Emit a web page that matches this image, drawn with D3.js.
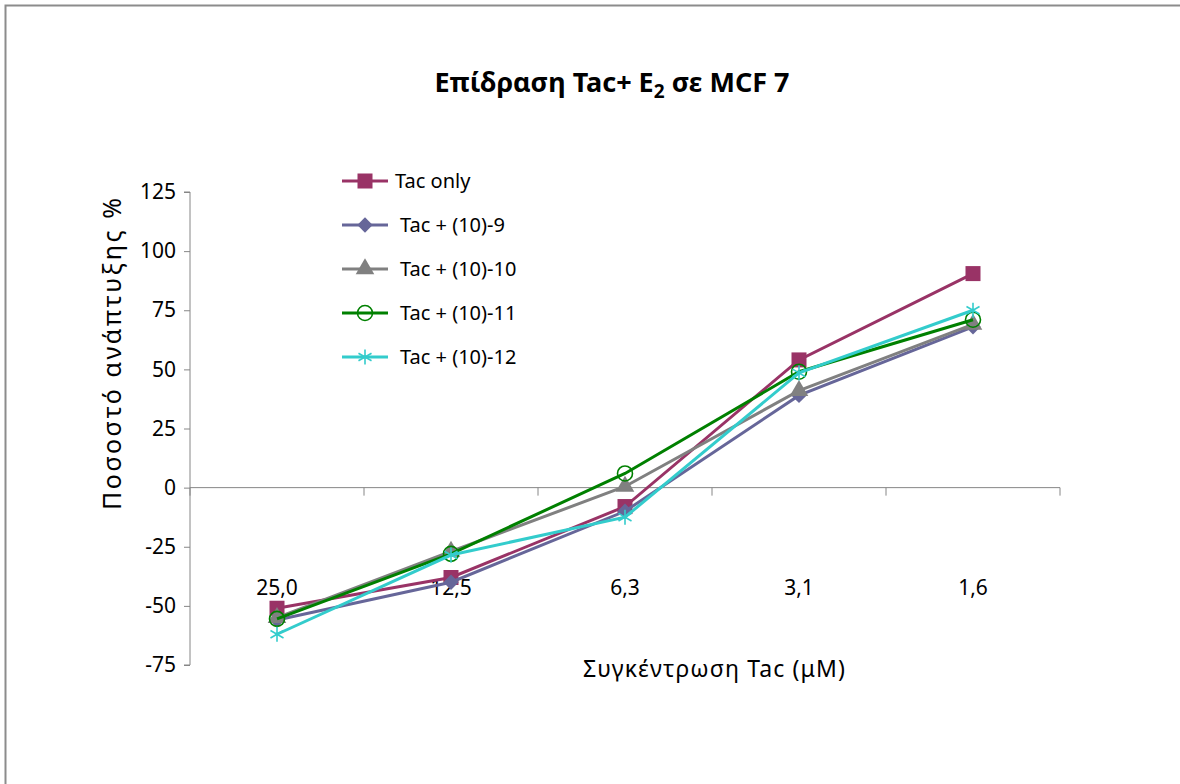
<!DOCTYPE html>
<html lang="el">
<head>
<meta charset="UTF-8" />
<title>Επίδραση Tac+ E2 σε MCF 7</title>
<script src="https://cdn.jsdelivr.net/npm/d3@7"></script>
<style>
  body { margin: 0; background: #fff; }
  svg text { font-family: "Noto Sans", "Open Sans", sans-serif; fill: #000; }
</style>
</head>
<body>
<div id="chart"></div>
<script>
// categories (concentration, µM)
const concentrations = ["25,0", "12,5", "6,3", "3,1", "1,6"];
const yTicks = [-75, -50, -25, 0, 25, 50, 75, 100, 125];

const seriesNames = ["Tac only", "Tac + (10)-9", "Tac + (10)-10", "Tac + (10)-11", "Tac + (10)-12"];
const tacOnly = [-51, -38, -8, 54, 90.5];
const tac9 = [-56, -40, -10, 39, 68];
const tac10 = [-55, -27, 0.5, 41, 69];
const tac11 = [-55.5, -28, 6, 49, 71];
const tac12 = [-62, -28.5, -12.5, 48.5, 75];

const colors = ["#993366", "#666699", "#808080", "#008000", "#33cccc"];
const symbols = ["square", "diamond", "triangle", "circle", "star"];

const series = [tacOnly, tac9, tac10, tac11, tac12].map((vals, i) => ({
    name: seriesNames[i], values: vals, color: colors[i], symbol: symbols[i]
}));

const width = 1180, height = 784;
const plotLeft = 190, plotRight = 1060, plotTop = 192, plotBottom = 665;

const svg = d3.select("#chart").append("svg")
    .attr("width", width)
    .attr("height", height);

// outer frame (runs off the page on right / bottom)
svg.append("rect")
    .attr("x", 5.5).attr("y", 5.5)
    .attr("width", width + 20).attr("height", height + 20)
    .attr("fill", "none")
    .attr("stroke", "#8c8c8c")
    .attr("stroke-width", 2);

const x = d3.scaleBand().domain(concentrations).range([plotLeft, plotRight]);
const y = d3.scaleLinear().domain([-75, 125]).range([plotBottom, plotTop]);

// y axis
const yAxis = svg.append("g")
    .attr("transform", `translate(${plotLeft},0)`)
    .call(d3.axisLeft(y).tickValues(yTicks).tickSize(6).tickPadding(8)
        .tickFormat(d => String(d)));
yAxis.attr("font-size", null).attr("font-family", null);
yAxis.select(".domain").attr("stroke", "#868686").attr("d", `M-6,${y(125)}H0V${y(-75)}H-6`);
yAxis.selectAll(".tick line").attr("stroke", "#868686");
yAxis.selectAll(".tick text").style("font-size", "21px").attr("fill", "#000");

// x axis at zero
const xAxis = svg.append("g")
    .attr("transform", `translate(0,${y(0)})`);
xAxis.append("line")
    .attr("x1", plotLeft).attr("x2", plotRight)
    .attr("stroke", "#868686").attr("stroke-width", 1);
xAxis.selectAll("line.tk")
    .data(d3.range(concentrations.length + 1))
    .enter().append("line")
    .attr("class", "tk")
    .attr("x1", i => plotLeft + i * x.bandwidth())
    .attr("x2", i => plotLeft + i * x.bandwidth())
    .attr("y1", 0).attr("y2", 8)
    .attr("stroke", "#868686");

// category labels (placed low)
svg.selectAll("text.xl")
    .data(concentrations)
    .enter().append("text")
    .attr("class", "xl")
    .attr("x", d => x(d) + x.bandwidth() / 2)
    .attr("y", y(-42) + 8)
    .attr("text-anchor", "middle")
    .style("font-size", "21px")
    .text(d => d);

const cx = i => x(concentrations[i]) + x.bandwidth() / 2;

const line = d3.line()
    .x((d, i) => cx(i))
    .y(d => y(d));

function drawMarker(g, s, px, py) {
    if (s.symbol === "square") {
        g.append("rect").attr("x", px - 7.5).attr("y", py - 7.5).attr("width", 15).attr("height", 15)
            .attr("fill", s.color);
    } else if (s.symbol === "diamond") {
        g.append("path").attr("d", d3.symbol().type(d3.symbolDiamond2).size(150)())
            .attr("transform", `translate(${px},${py})`).attr("fill", s.color);
    } else if (s.symbol === "triangle") {
        g.append("path").attr("d", d3.symbol().type(d3.symbolTriangle).size(150)())
            .attr("transform", `translate(${px},${py})`).attr("fill", s.color);
    } else if (s.symbol === "circle") {
        g.append("circle").attr("cx", px).attr("cy", py).attr("r", 7.5)
            .attr("fill", "none").attr("stroke", s.color).attr("stroke-width", 1.6);
    } else if (s.symbol === "star") {
        g.append("path").attr("d", d3.symbol().type(d3.symbolAsterisk).size(160)())
            .attr("transform", `translate(${px},${py})`)
            .attr("fill", "none").attr("stroke", s.color).attr("stroke-width", 1.6);
    }
}

series.forEach(s => {
    const g = svg.append("g");
    g.append("path")
        .datum(s.values)
        .attr("d", line)
        .attr("fill", "none")
        .attr("stroke", s.color)
        .attr("stroke-width", 3);
    s.values.forEach((v, i) => drawMarker(g, s, cx(i), y(v)));
});

// legend
const legend = svg.append("g").attr("transform", "translate(342,181)");
series.forEach((s, i) => {
    const g = legend.append("g").attr("transform", `translate(0,${i * 44})`);
    g.append("line").attr("x1", 0).attr("x2", 46).attr("y1", 0).attr("y2", 0)
        .attr("stroke", s.color).attr("stroke-width", 3);
    drawMarker(g, s, 23, 0);
    g.append("text").attr("x", i === 0 ? 53 : 58).attr("y", 7)
        .attr("font-size", 20).text(s.name);
});

// title
const title = svg.append("text")
    .attr("x", 612).attr("y", 92)
    .attr("text-anchor", "middle")
    .attr("font-size", 27)
    .attr("font-weight", "bold");
title.append("tspan").text("Επίδραση Tac+ E");
title.append("tspan").attr("font-size", 19).attr("dy", 6).text("2");
title.append("tspan").attr("dy", -6).text(" σε MCF 7");

// axis titles
svg.append("text")
    .attr("x", 714).attr("y", 677)
    .attr("text-anchor", "middle")
    .attr("font-size", 23)
    .attr("textLength", 262)
    .attr("lengthAdjust", "spacing")
    .text("Συγκέντρωση Tac (μΜ)");

svg.append("text")
    .attr("transform", "translate(121,354) rotate(-90)")
    .attr("text-anchor", "middle")
    .attr("font-size", 25)
    .attr("textLength", 312)
    .attr("lengthAdjust", "spacing")
    .text("Ποσοστό ανάπτυξης %");
</script>
</body>
</html>
